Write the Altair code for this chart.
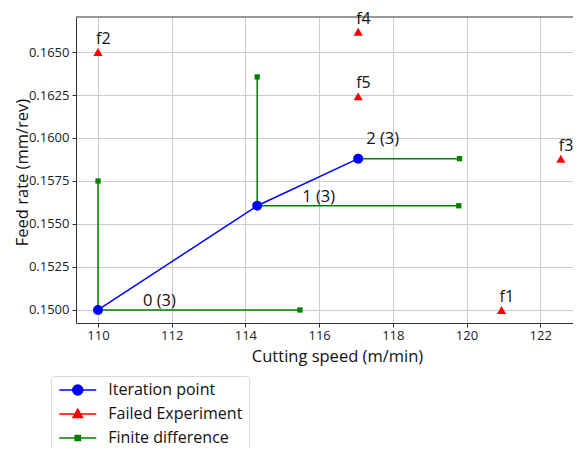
import altair as alt
import pandas as pd

# ---- data ----
iter_x = [110.0, 114.32, 117.06]
iter_y = [0.1500, 0.15606, 0.1588]
iter_label = ["0 (3)", "1 (3)", "2 (3)"]

# finite-difference segments (start at iteration point, end at marker)
fd_x0 = [110.0, 110.0, 114.32, 114.32, 117.06]
fd_y0 = [0.1500, 0.1500, 0.15606, 0.15606, 0.1588]
fd_x1 = [110.0, 115.48, 114.32, 119.79, 119.81]
fd_y1 = [0.1575, 0.1500, 0.16355, 0.15606, 0.1588]

fail_x = [120.95, 110.0, 122.56, 117.06, 117.06]
fail_y = [0.1500, 0.1650, 0.1588, 0.16618, 0.16242]
fail_label = ["f1", "f2", "f3", "f4", "f5"]

legend_series = ["Iteration point", "Failed Experiment", "Finite difference"]
legend_colors = ["#0000ff", "#ff0000", "#008000"]

x_ticks = [110, 112, 114, 116, 118, 120, 122]
y_ticks = [0.1500, 0.1525, 0.1550, 0.1575, 0.1600, 0.1625, 0.1650]

X_DOMAIN = [109.403, 122.890]
Y_DOMAIN = [0.149244, 0.167035]

W, H = 497, 306
FONT = "Open Sans"

iter_df = pd.DataFrame({"x": iter_x, "y": iter_y, "label": iter_label, "i": list(range(len(iter_x)))})
fd_df = pd.DataFrame({"x0": fd_x0, "y0": fd_y0, "x1": fd_x1, "y1": fd_y1})
fail_df = pd.DataFrame({"x": fail_x, "y": fail_y, "label": fail_label})
leg_df = pd.DataFrame({"series": legend_series})
one_df = pd.DataFrame({"a": [0]})

xs = alt.Scale(domain=X_DOMAIN, nice=False, zero=False)
ys = alt.Scale(domain=Y_DOMAIN, nice=False, zero=False)

x_axis = alt.Axis(values=x_ticks, format="d", title="Cutting speed (m/min)",
                  labelPadding=2, titlePadding=6, titleX=261, titleAnchor="start", titleAlign="center")
y_axis = alt.Axis(values=y_ticks, format=".4f", title="Feed rate (mm/rev)",
                  labelPadding=3, titleX=-46, titleY=155)

top_rule = alt.Chart(one_df).mark_rule(color="#333333", strokeWidth=1).encode(
    x=alt.value(0), x2=alt.value(W), y=alt.value(0)
)

fd_lines = alt.Chart(fd_df).mark_rule(color="#008000", strokeWidth=1.5).encode(
    x=alt.X("x0:Q", scale=xs, axis=x_axis),
    y=alt.Y("y0:Q", scale=ys, axis=y_axis),
    x2="x1:Q",
    y2="y1:Q",
)

fd_marks = alt.Chart(fd_df).mark_point(shape="square", filled=True, color="#008000",
                                       size=28, opacity=1).encode(
    x=alt.X("x1:Q", scale=xs), y=alt.Y("y1:Q", scale=ys)
)

iter_line = alt.Chart(iter_df).mark_line(color="#0000ff", strokeWidth=1.5).encode(
    x=alt.X("x:Q", scale=xs), y=alt.Y("y:Q", scale=ys), order="i:Q"
)

iter_pts = alt.Chart(iter_df).mark_point(shape="circle", filled=True, color="#0000ff",
                                         size=100, opacity=1).encode(
    x=alt.X("x:Q", scale=xs), y=alt.Y("y:Q", scale=ys)
)

fail_pts = alt.Chart(fail_df).mark_point(shape="triangle-up", filled=True, color="#ff0000",
                                         size=85, opacity=1).encode(
    x=alt.X("x:Q", scale=xs), y=alt.Y("y:Q", scale=ys)
)

fail_txt = alt.Chart(fail_df).mark_text(align="left", baseline="alphabetic", dx=-2, dy=-8,
                                        fontSize=16, font=FONT, color="#111111").encode(
    x=alt.X("x:Q", scale=xs), y=alt.Y("y:Q", scale=ys), text="label:N"
)

iter_txt_a = alt.Chart(iter_df).transform_filter("datum.i < 2").mark_text(
    align="left", baseline="alphabetic", dx=45, dy=-4, fontSize=16.5, font=FONT, color="#111111"
).encode(x=alt.X("x:Q", scale=xs), y=alt.Y("y:Q", scale=ys), text="label:N")

iter_txt_b = alt.Chart(iter_df).transform_filter("datum.i == 2").mark_text(
    align="left", baseline="alphabetic", dx=8, dy=-15, fontSize=16.5, font=FONT, color="#111111"
).encode(x=alt.X("x:Q", scale=xs), y=alt.Y("y:Q", scale=ys), text="label:N")

# legend symbols: line segment plus marker (symbolSize 100 -> 5 px per unit)
p_circle = "M-3.7,0H3.7M-1,0A1,1,0,1,1,1,0A1,1,0,1,1,-1,0Z"
p_tri = "M-3.7,0H3.7M0,-0.95L0.95,0.7H-0.95Z"
p_sq = "M-3.7,0H3.7M-0.52,-0.52H0.52V0.52H-0.52Z"

leg = alt.Legend(orient="none", legendX=-25, legendY=359, title=None,
                 symbolSize=100, symbolStrokeWidth=1.5, symbolOffset=12.75,
                 labelFontSize=16, labelFont=FONT, labelColor="#111111",
                 labelOffset=22.5, padding=6, strokeColor="#d9d9d9", fillColor="white",
                 cornerRadius=3, rowPadding=8)

legend_layer = alt.Chart(leg_df).mark_point(filled=True, opacity=1, strokeWidth=1.5).encode(
    x=alt.value(-2000), y=alt.value(-2000),
    shape=alt.Shape("series:N", scale=alt.Scale(domain=legend_series, range=[p_circle, p_tri, p_sq]), legend=leg),
    fill=alt.Fill("series:N", scale=alt.Scale(domain=legend_series, range=legend_colors), legend=leg),
    stroke=alt.Stroke("series:N", scale=alt.Scale(domain=legend_series, range=legend_colors), legend=leg),
)

chart = alt.layer(
    fd_lines, top_rule, fd_marks, iter_line, iter_pts, fail_pts,
    fail_txt, iter_txt_a, iter_txt_b, legend_layer
).properties(
    width=W, height=H,
    autosize=alt.AutoSizeParams(type="none"),
    padding={"left": 68, "top": 9, "right": 0, "bottom": 125},
).configure_view(stroke=None).configure_axis(
    domainColor="#333333", tickColor="#333333", tickSize=4,
    labelFont=FONT, labelFontSize=13, labelColor="#222222",
    titleFont=FONT, titleFontSize=16.5, titleFontWeight="normal", titleColor="#111111",
    gridColor="#cccccc", gridWidth=1,
)

chart.save("out.html", embed_options={"renderer": "svg", "actions": False})
